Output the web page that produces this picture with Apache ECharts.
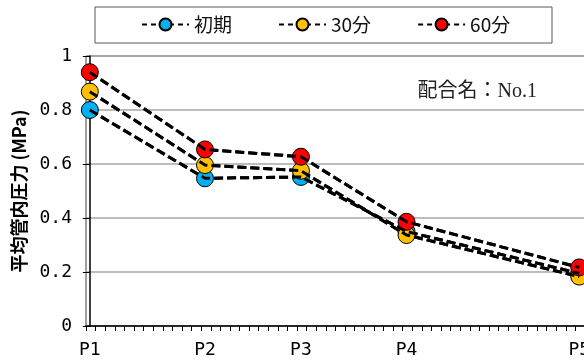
<!DOCTYPE html>
<html><head><meta charset="utf-8">
<script src="https://cdn.jsdelivr.net/npm/echarts@6/dist/echarts.min.js"></script>
<style>html,body{margin:0;padding:0;background:#fff}#c{width:584px;height:362px}</style>
</head><body><div id="c"></div>
<script>
const categories = ['P1', 'P2', 'P3', 'P4', 'P5'];
const positions = [0, 12, 22, 33, 51];
const seriesNames = ['初期', '30分', '60分'];
const initial = [0.80, 0.547, 0.552, 0.35, 0.195];
const min30 = [0.868, 0.596, 0.575, 0.337, 0.183];
const min60 = [0.94, 0.654, 0.627, 0.386, 0.217];
const yTicks = [0, 0.2, 0.4, 0.6, 0.8, 1];
const colors = ['#00b0f0', '#ffc000', '#ff0000'];
const noteText = '配合名：No.1';
const yName = '平均管内圧力 (MPa)';

const values = [initial, min30, min60];
const xMin = -0.4, xMax = 51.6;
const tickVals = [];
for (let t = xMin; t <= xMax + 1e-9; t += 1) tickVals.push(+t.toFixed(2));

const mono = 'DejaVu Sans Mono';
const cjk = 'Noto Sans CJK JP';
const dash = [9, 4];

const series = [];
values.forEach((vals, i) => {
  series.push({
    name: seriesNames[i], type: 'line', z: 2,
    data: positions.map((x, j) => [x, vals[j]]),
    symbol: 'circle', symbolSize: 17,
    itemStyle: { color: colors[i], borderColor: '#000', borderWidth: 1 },
    lineStyle: { color: '#000', width: 3, type: dash },
    animation: false
  });
});
values.forEach((vals, i) => {
  series.push({
    type: 'line', z: 3, silent: true,
    data: positions.map((x, j) => [x, vals[j]]),
    symbol: 'none',
    lineStyle: { color: '#000', width: 3, type: dash },
    animation: false
  });
});

const chart = echarts.init(document.getElementById('c'));
chart.setOption({
  animation: false,
  grid: { left: 86, top: 56, width: 499, height: 270, outerBoundsMode: 'none', containLabel: false, show: true, borderColor: '#404040', borderWidth: 1, backgroundColor: 'transparent' },
  title: { text: noteText, right: 42, top: 77, textStyle: { fontFamily: 'Liberation Serif, ' + cjk, fontSize: 20, fontWeight: 'normal', color: '#222' } },
  legend: {
    data: seriesNames, left: 141, top: 15, padding: 0,
    itemWidth: 47, itemHeight: 15, itemGap: 46,
    lineStyle: { width: 2, type: [5, 4] },
    textStyle: { fontFamily: cjk, fontSize: 19, color: '#111' }
  },
  graphic: [{ type: 'rect', shape: { x: 95, y: 7, width: 457, height: 36 }, style: { fill: 'none', stroke: '#595959', lineWidth: 1 }, silent: true }],
  xAxis: {
    type: 'value', min: xMin, max: xMax,
    axisLine: { show: true, onZero: false, lineStyle: { color: '#000', width: 1.5 } },
    axisTick: { show: true, customValues: tickVals, length: 5, lineStyle: { color: '#000', width: 1 } },
    axisLabel: {
      customValues: positions, margin: 15, hideOverlap: false,
      formatter: v => { const k = positions.indexOf(v); return k >= 0 ? categories[k] : ''; },
      fontFamily: mono, fontSize: 18, color: '#000'
    },
    splitLine: { show: false }
  },
  yAxis: {
    type: 'value', min: 0, max: 1, interval: 0.2,
    name: yName, nameLocation: 'middle', nameGap: 58,
    nameTextStyle: { fontFamily: cjk, fontSize: 18, fontWeight: 'bold', color: '#000' },
    axisLine: { show: true, lineStyle: { color: '#000', width: 1.5 } },
    axisTick: { show: true, length: 7, lineStyle: { color: '#000', width: 1 } },
    axisLabel: { margin: 14, fontFamily: mono, fontSize: 18, color: '#000', formatter: v => String(+v.toFixed(1)) },
    splitLine: { show: true, lineStyle: { color: '#a6a6a6', width: 1.5 } }
  },
  series: series
});
</script></body></html>
